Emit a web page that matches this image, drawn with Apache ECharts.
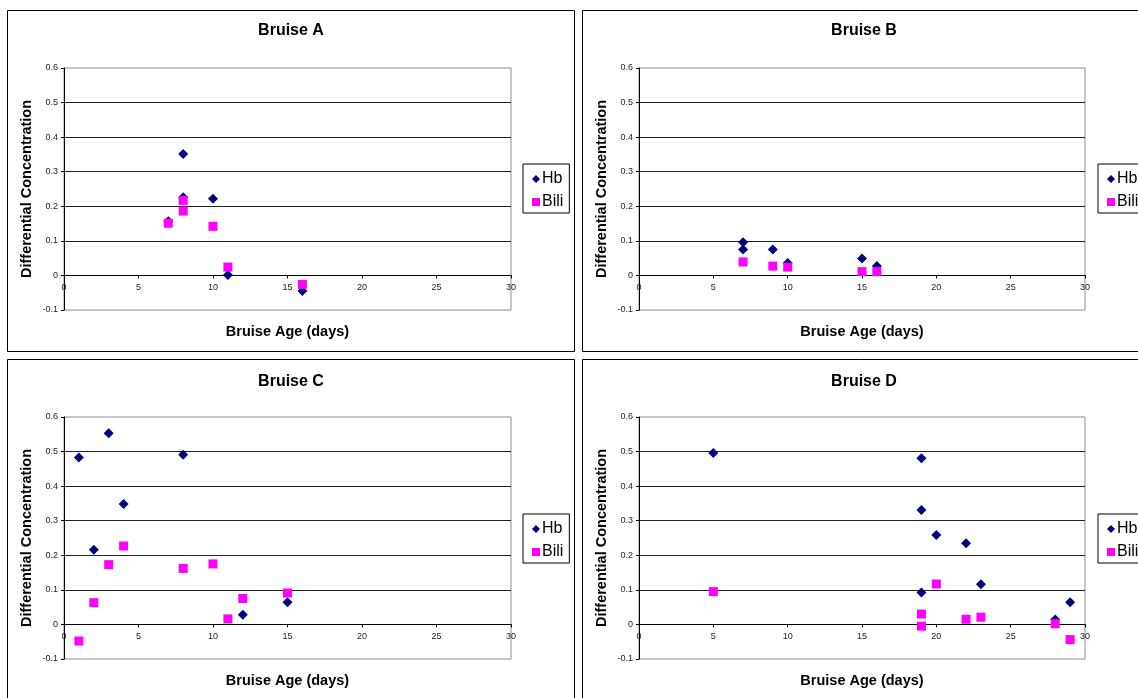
<!DOCTYPE html>
<html><head><meta charset="utf-8">
<script src="https://cdn.jsdelivr.net/npm/echarts@6/dist/echarts.min.js"></script>
<style>html,body{margin:0;padding:0;background:#fff}#c{width:1138px;height:698px}</style>
</head><body><div id="c"></div>
<script>
// ---- data ----
const panelTitles = ['Bruise A', 'Bruise B', 'Bruise C', 'Bruise D'];
const seriesNames = ['Hb', 'Bili'];
const xAxisTitle = 'Bruise Age (days)';
const yAxisTitle = 'Differential Concentration';
const xRange = [0, 30, 5];
const yRange = [-0.1, 0.6, 0.1];

const hbA   = [[7,0.157],[8,0.351],[8,0.226],[10,0.222],[11,0.001],[16,-0.045]];
const biliA = [[7,0.151],[8,0.217],[8,0.186],[10,0.142],[11,0.024],[16,-0.026]];
const hbB   = [[7,0.096],[7,0.075],[9,0.075],[10,0.036],[15,0.049],[16,0.027]];
const biliB = [[7,0.039],[9,0.027],[10,0.024],[15,0.011],[16,0.011]];
const hbC   = [[1,0.483],[2,0.216],[3,0.553],[4,0.348],[8,0.491],[12,0.028],[15,0.064]];
const biliC = [[1,-0.048],[2,0.063],[3,0.173],[4,0.227],[8,0.162],[10,0.175],[11,0.016],[12,0.075],[15,0.091]];
const hbD   = [[5,0.496],[19,0.481],[19,0.331],[19,0.092],[20,0.259],[22,0.235],[23,0.116],[28,0.014],[29,0.064]];
const biliD = [[5,0.095],[19,0.030],[19,-0.005],[20,0.117],[22,0.015],[23,0.021],[28,0.002],[29,-0.044]];

const hbSets = [hbA, hbB, hbC, hbD];
const biliSets = [biliA, biliB, biliC, biliD];

// ---- layout ----
const FONT = "'Liberation Sans', Arial, sans-serif";
const grids = [
  {left:64,  top:68,  width:447, height:242},
  {left:639, top:68,  width:446, height:242},
  {left:64,  top:417, width:447, height:242},
  {left:639, top:417, width:446, height:242}
];
const titlePos  = [{x:291,y:23},{x:864,y:23},{x:291,y:374},{x:864,y:374}];
const legendPos = [{x:523,y:164},{x:1098,y:164},{x:523,y:514},{x:1098,y:514}];
const panelBoxes = [
  {x:7.5,   y:10.5,  w:567, h:341},
  {x:582.5, y:10.5,  w:600, h:341},
  {x:7.5,   y:359.5, w:567, h:400},
  {x:582.5, y:359.5, w:600, h:400}
];
// x axis crosses the y axis at value 0: shift it up from the grid bottom
const zeroOffset = g => -g.height * (0 - yRange[0]) / (yRange[1] - yRange[0]);

const option = {
  animation: false,
  backgroundColor: '#fff',
  textStyle: {fontFamily: FONT},
  graphic: panelBoxes.map(b => ({
    type: 'rect', silent: true, z: -10,
    shape: {x: b.x, y: b.y, width: b.w, height: b.h},
    style: {fill: '#fff', stroke: '#000', lineWidth: 1}
  })),
  title: panelTitles.map((t, i) => ({
    text: t, left: titlePos[i].x, top: titlePos[i].y, textAlign: 'center', padding: 0,
    textStyle: {fontSize: 16, fontWeight: 'bold', color: '#000', fontFamily: FONT}
  })),
  legend: legendPos.map(p => ({
    data: seriesNames, orient: 'vertical', left: p.x, top: p.y,
    backgroundColor: '#fff', borderColor: '#000', borderWidth: 1,
    padding: [7, 6, 3, 9], itemGap: 7, itemWidth: 8, itemHeight: 8,
    textStyle: {fontSize: 16, color: '#000', fontFamily: FONT, padding: [0,0,0,-3]}
  })),
  grid: grids.map(g => Object.assign({show: true, borderColor: '#8c8c8c', borderWidth: 1, backgroundColor: '#fff'}, g)),
  xAxis: grids.map((g, i) => ({
    gridIndex: i, type: 'value', min: xRange[0], max: xRange[1], interval: xRange[2],
    position: 'bottom', offset: zeroOffset(g),
    name: xAxisTitle, nameLocation: 'middle', nameGap: 49,
    nameTextStyle: {fontSize: 14.5, fontWeight: 'bold', color: '#000', fontFamily: FONT},
    axisLine: {onZero: false, lineStyle: {color: '#000', width: 1}},
    axisTick: {show: true, length: 3, lineStyle: {color: '#000'}},
    axisLabel: {fontSize: 9, color: '#222', margin: 8, fontFamily: FONT},
    splitLine: {show: false}
  })),
  yAxis: grids.map((g, i) => ({
    gridIndex: i, type: 'value', min: yRange[0], max: yRange[1], interval: yRange[2],
    name: yAxisTitle, nameLocation: 'middle', nameGap: 30, nameRotate: 90,
    nameTextStyle: {fontSize: 14.5, fontWeight: 'bold', color: '#000', fontFamily: FONT},
    axisLine: {show: true, onZero: false, lineStyle: {color: '#000', width: 1}},
    axisTick: {show: true, length: 3, lineStyle: {color: '#000'}},
    axisLabel: {fontSize: 9, color: '#222', margin: 6, fontFamily: FONT,
      formatter: v => String(Math.round(v * 10) / 10)},
    splitLine: {show: true, showMinLine: false, showMaxLine: false, lineStyle: {color: '#222', width: 1}}
  })),
  series: []
};

grids.forEach((g, i) => {
  option.series.push({
    name: 'Hb', type: 'scatter', xAxisIndex: i, yAxisIndex: i,
    symbol: 'diamond', symbolSize: 10, itemStyle: {color: '#000080', opacity: 1},
    data: hbSets[i], z: 3
  });
  option.series.push({
    name: 'Bili', type: 'scatter', xAxisIndex: i, yAxisIndex: i,
    symbol: 'rect', symbolSize: 9, itemStyle: {color: '#ff00ff', opacity: 1},
    data: biliSets[i], z: 4
  });
});

const chart = echarts.init(document.getElementById('c'), null, {renderer: 'canvas'});
chart.setOption(option);
</script>
</body></html>
